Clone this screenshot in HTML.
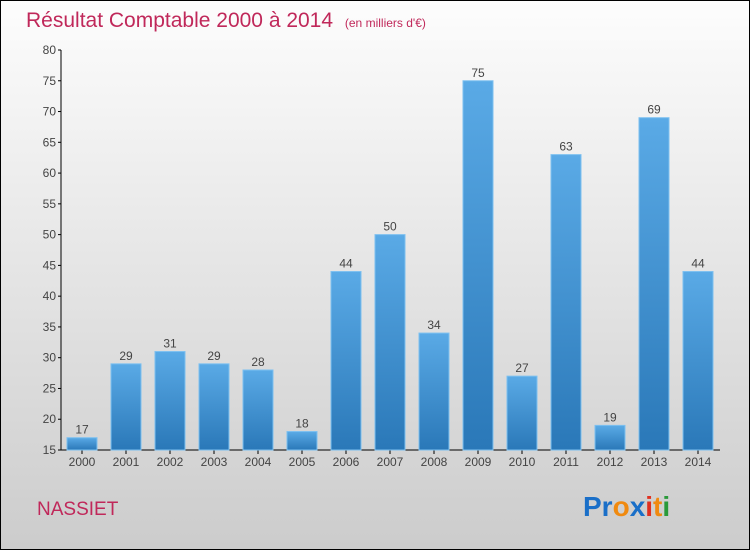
<!DOCTYPE html>
<html><head><meta charset="utf-8"><style>
body{margin:0;width:750px;height:550px;overflow:hidden;font-family:"Liberation Sans",sans-serif}
svg{display:block}
</style></head><body>
<svg id="c" width="750" height="550" xmlns="http://www.w3.org/2000/svg">
<defs>
<linearGradient id="bg" x1="0" y1="0" x2="0" y2="1"><stop offset="0" stop-color="#fdfdfd"/><stop offset="1" stop-color="#cccccc"/></linearGradient>
<linearGradient id="bar" x1="0" y1="0" x2="0" y2="1"><stop offset="0" stop-color="#5aaae6"/><stop offset="1" stop-color="#2a78b8"/></linearGradient>
</defs>
<rect x="0.5" y="0.5" width="749" height="549" fill="url(#bg)" stroke="#000"/>
<text x="26" y="27" font-size="21" fill="#c0285a">Résultat Comptable 2000 à 2014 <tspan font-size="12" dx="6">(en milliers d'€)</tspan></text>
<text x="37" y="515" font-size="19" fill="#c0285a">NASSIET</text>
<g font-size="28" font-weight="bold" font-family="'Liberation Sans',sans-serif">
<text x="583" y="516"><tspan fill="#1a6fc8">Pr</tspan><tspan fill="#f08a10">o</tspan><tspan fill="#1a6fc8">x</tspan><tspan fill="#e03020">i</tspan><tspan fill="#f08a10">t</tspan><tspan fill="#2a9a3a">i</tspan></text>
</g>
<g id="axes"></g>
<g id="bars"></g>
</svg>
<script>
const years=["2000","2001","2002","2003","2004","2005","2006","2007","2008","2009","2010","2011","2012","2013","2014"];
const values=[17,29,31,29,28,18,44,50,34,75,27,63,19,69,44];
const yTicks=[15,20,25,30,35,40,45,50,55,60,65,70,75,80];
const NS="http://www.w3.org/2000/svg";
const y0=450,y1=50,vmin=15,vmax=80;
function ys(v){return y0-(v-vmin)/(vmax-vmin)*(y0-y1);}
function xs(i){return 82+i*44;}
function mk(t,a,p,txt){const e=document.createElementNS(NS,t);for(const k in a)e.setAttribute(k,a[k]);if(txt!==undefined)e.textContent=txt;p.appendChild(e);return e;}
const ax=document.getElementById('axes'),bs=document.getElementById('bars');
let l=mk('line',{x1:61,y1:50,x2:61,y2:450,stroke:'#000'},ax);


l=mk('line',{x1:61,y1:450,x2:720,y2:450,stroke:'#000'},ax);


yTicks.forEach(v=>{
 const y=ys(v);
 mk('line',{x1:58,y1:y,x2:61,y2:y,stroke:'#000'},ax);
 const t=mk('text',{x:56,y:y+4,'text-anchor':'end','font-size':12,fill:'#444'},ax,v);
 
 
});
years.forEach((yr,i)=>{
 const x=xs(i),v=values[i],y=ys(v);
 const r=mk('rect',{x:x-15,y:y,width:30,height:y0-y,fill:'url(#bar)',stroke:'#7cc0f0','stroke-width':1},bs);
 
 
 const vt=mk('text',{x:x,y:y-4,'text-anchor':'middle','font-size':12,fill:'#444'},bs,v);
 
 
 mk('line',{x1:x,y1:450,x2:x,y2:454,stroke:'#000'},ax);
 const xt=mk('text',{x:x,y:466,'text-anchor':'middle','font-size':12,fill:'#444'},ax,yr);
 
 
});
</script>
</body></html>
